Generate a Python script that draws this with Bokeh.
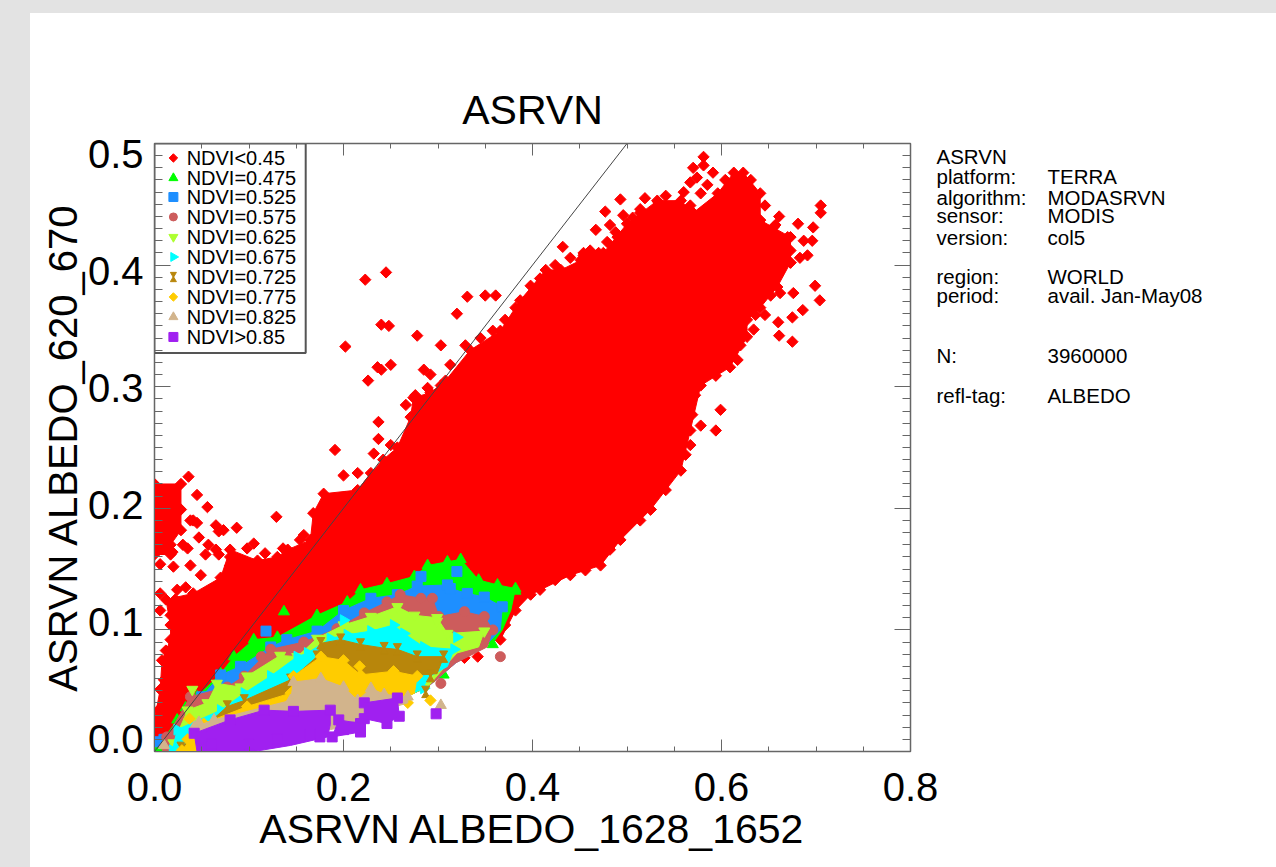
import math
from bokeh.plotting import figure
from bokeh.embed import file_html
from bokeh.resources import INLINE
from bokeh.core.properties import value
from bokeh.models import Range1d, LinearAxis, SingleIntervalTicker, FixedTicker, NumeralTickFormatter

TITLE = "ASRVN"
X_LABEL = "ASRVN ALBEDO_1628_1652"
Y_LABEL = "ASRVN ALBEDO_620_670"

# ---- info block (rows given on the y scale)
info_left = ["ASRVN", "platform:", "algorithm:", "sensor:", "version:", "region:", "period:", "N:", "refl-tag:"]
info_right = ["", "TERRA", "MODASRVN", "MODIS", "col5", "WORLD", "avail. Jan-May08", "3960000", "ALBEDO"]
info_rows = [.4897, .4725, .456, .4404, .4231, .391, .3746, .3253, .2924]

# ---- NDVI < 0.45 (red)
red_x = [0, 0, .006, .008, .017, .017, .012, .041, .070, .080, .109, .130, .141, .165, .168, .179, .215, .229, .242,
         .257, .271, .274, .292, .308, .334, .366, .387, .414, .430, .451, .454, .475, .500, .532, .557, .570, .596,
         .613, .623, .641, .641, .673, .673, .659, .641, .627, .627, .609, .578, .567, .557, .525, .493, .472, .440,
         .398, .382, .366, .303, .154, .049]
red_y = [0, .026, .051, .075, .092, .104, .125, .130, .143, .166, .157, .160, .166, .174, .196, .212, .215, .229, .240,
         .250, .275, .291, .295, .305, .330, .346, .371, .396, .396, .404, .410, .410, .434, .453, .453, .443, .459,
         .476, .476, .459, .437, .423, .402, .382, .365, .355, .341, .316, .301, .264, .231, .199, .174, .153, .145,
         .129, .116, .092, .083, .042, .005]
red_blob_x = [0, .028, .028, .017, .017, 0]
red_blob_y = [.220, .220, .182, .170, .162, .162]
red_pts_x = [.581, .581, .570, .591, .574, .567, .585, .560, .578, .493, .519, .477, .514, .533, .467, .482, .496, .506,
             .490, .479, .454, .470, .432, .451, .705, .705, .697, .681, .661, .655, .670, .687, .696, .691, .683, .673,
             .699, .704, .676, .686, .662, .646, .660, .675, .661, .675, .634, .617, .599, .594, .578, .567, .525,
             .223, .245, .240, .248, .278, .202, .226, .240, .236, .250, .285, .289, .237, .191, .237, .232, .250, .200,
             .215, .129, .087, .073, .068, .158, .320, .350, .361, .331, .303, .292, .266, .276, .036, .045, .056, .045,
             .065, .038, .098, .105, .136, .006, .020, .038, .006, .024, .033, .054, .065, .080, .049, .030, .012, .342,
             .328,
             .303, .313, .329, .345, .358, .371, .382, .398, .408, .424, .440, .461, .488, .514, .541, .567, .604, .631,
             .646, .657, .673, .652, .636, .620, .594, .572, .569, .562, .541, .514, .482, .456, .424, .408, .371,
             .012, .010, .004, .017, .006, .022, .186, .202, .154, .117,
             .041, .047, .057, .035, .019, .068, .080, .028]
red_pts_y = [.489, .482, .480, .476, .472, .468, .466, .460, .459, .454, .455, .444, .446, .452, .429, .433, .441, .439,
             .423, .419, .408, .410, .415, .398, .443, .449, .431, .434, .440, .431, .423, .420, .420, .408, .406, .402,
             .383, .371, .377, .363, .377, .359, .353, .357, .342, .337, .347, .322, .281, .264, .268, .252, .199,
             .388, .394, .351, .350, .342, .333, .305, .314, .316, .318, .314, .299, .271, .248, .257, .245, .252, .227,
             .229, .193, .184, .182, .181, .178, .360, .375, .375, .374, .334, .310, .285, .293, .226, .211, .201, .188,
             .186, .190, .167, .171, .167, .154, .152, .153, .130, .133, .135, .162, .166, .153, .145, .170, .182, .078,
             .077,
             .301, .318, .334, .340, .346, .355, .365, .383, .389, .400, .406, .412, .427, .443, .457, .449, .470, .470,
             .449, .433, .412, .375, .359, .334, .309, .293, .277, .244, .215, .190, .166, .149, .141, .133, .104,
             .083, .059, .034, .112, .116, .125, .203, .209, .174, .163,
             .190, .176, .170, .167, .164, .162, .160, .199]

# ---- NDVI = 0.475 (green)
green_top_x = [.001, .024, .045, .070, .084, .105, .130, .172, .204, .218, .246, .275, .289, .310, .324, .343, .363, .382]
green_top_y = [.001, .026, .045, .064, .078, .092, .094, .112, .123, .133, .138, .144, .153, .156, .158, .141, .137, .134]
green_bot_x = [.377, .368, .358, .338, .313, .289, .257, .186, .080, .010]
green_bot_y = [.116, .100, .089, .086, .070, .053, .042, .020, .001, 0]
green_pts_x = [.033, .137, .358, .306, .343, .382, .363]
green_pts_y = [.036, .115, .088, .063, .138, .132, .133]

# ---- NDVI = 0.525 (blue)
blue_top_x = [.010, .050, .070, .091, .123, .140, .172, .200, .229, .257, .278, .310, .313, .331, .349, .368]
blue_top_y = [.010, .045, .063, .070, .086, .092, .099, .116, .126, .129, .136, .137, .134, .130, .127, .119]
blue_bot_x = [.366, .349, .319, .289, .257, .186, .080, .010]
blue_bot_y = [.100, .086, .073, .053, .042, .020, .001, 0]
blue_pts_x = [.118, .282, .320, .005]
blue_pts_y = [.099, .144, .148, .008]

# ---- NDVI = 0.575 (rosy)
rosy_top_x = [.013, .038, .077, .095, .123, .158, .193, .222, .246, .260, .282, .294, .301, .328, .349, .358]
rosy_top_y = [.012, .045, .053, .062, .084, .090, .101, .114, .123, .129, .126, .126, .111, .115, .111, .100]
rosy_bot_x = [.352, .319, .289, .257, .186, .080, .010]
rosy_bot_y = [.086, .073, .053, .042, .020, .001, 0]
rosy_pts_x = [.366, .303, .113, .013]
rosy_pts_y = [.078, .056, .078, .003]

# ---- NDVI = 0.625 (yellow-green)
lime_top_x = [.020, .035, .056, .066, .091, .098, .133, .151, .172, .200, .229, .257, .275, .299, .310, .349]
lime_top_y = [.007, .034, .040, .056, .053, .062, .079, .078, .093, .104, .111, .119, .112, .110, .097, .099]
lime_bot_x = [.343, .320, .313, .289, .257, .186, .080, .020]
lime_bot_y = [.086, .081, .075, .053, .042, .020, .001, 0]
lime_pts_x = [.040, .299]
lime_pts_y = [.051, .107]

# ---- NDVI = 0.675 (cyan)
cyan_top_x = [.019, .024, .070, .095, .123, .151, .162, .186, .204, .229, .253, .264, .285, .317]
cyan_top_y = [.001, .018, .034, .048, .062, .078, .081, .093, .096, .099, .104, .097, .086, .084]
cyan_bot_x = [.310, .292, .282, .257, .186, .080, .020]
cyan_bot_y = [.070, .062, .051, .042, .020, .001, 0]
cyan_pts_x = [.200, .320, .285]
cyan_pts_y = [.108, .094, .052]

# ---- NDVI = 0.725 (brown)
brown_top_x = [.028, .077, .095, .144, .172, .176, .197, .218, .243, .257, .278, .306]
brown_top_y = [.003, .037, .042, .059, .078, .089, .092, .088, .085, .084, .078, .078]
brown_bot_x = [.299, .282, .257, .186, .080, .028]
brown_bot_y = [.064, .063, .042, .020, .001, 0]
brown_pts_x = [.287, .292]
brown_pts_y = [.049, .062]

# ---- NDVI = 0.775 (gold)
gold_top_x = [.029, .052, .098, .144, .147, .176, .200, .218, .253, .278]
gold_top_y = [.001, .023, .037, .048, .062, .078, .075, .063, .066, .062]
gold_bot_x = [.275, .260, .222, .186, .080, .029]
gold_bot_y = [.048, .042, .029, .020, .001, 0]
gold_pts_x = [.217, .292, .268, .037, .035]
gold_pts_y = [.070, .042, .040, .027, .010]

# ---- NDVI = 0.825 (tan)
tan_top_x = [.042, .063, .144, .147, .176, .200, .215, .229, .243, .268]
tan_top_y = [.020, .026, .042, .057, .060, .053, .042, .052, .047, .045]
tan_bot_x = [.268, .222, .218, .186, .165, .045]
tan_bot_y = [.040, .029, .023, .018, .014, .008]
tan_pts_x = [.303, .047, .010]
tan_pts_y = [.038, .024, .005]

# ---- NDVI > 0.85 (purple)
purple_top_x = [.042, .080, .116, .147, .186]
purple_top_y = [.015, .026, .034, .033, .034]
purple_bot_x = [.186, .183, .144, .105, .045]
purple_bot_y = [.022, .012, .005, 0, 0]
purple2_x = [.222, .257, .259, .246, .222]
purple2_y = [.040, .044, .029, .023, .027]
purple3_x = [.188, .195, .218, .218]
purple3_y = [.012, .026, .023, .016]
purple_pts_x = [.298, .228, .250, .200, .212, .175, .060, .100, .130, .165, .050]
purple_pts_y = [.031, .036, .036, .018, .020, .012, .006, .006, .010, .014, .012]

one_to_one = [0, 0.5]

legend_names = ["NDVI<0.45", "NDVI=0.475", "NDVI=0.525", "NDVI=0.575", "NDVI=0.625", "NDVI=0.675",
                "NDVI=0.725", "NDVI=0.775", "NDVI=0.825", "NDVI>0.85"]
legend_rows = [.4881, .4716, .456, .4396, .4231, .4067, .3902, .3738, .3573, .3409]

# ---- layout: frame spans x 154..910, y 143..751 of the page
W, H = 1263, 856
p = figure(width=W, height=H, x_range=Range1d(0, 0.8), y_range=Range1d(0, 0.5),
           output_backend="svg", toolbar_location=None,
           min_border_left=154, min_border_right=W - 910, min_border_top=143, min_border_bottom=H - 751,
           background_fill_color="white", border_fill_color=None)
p.grid.visible = False
p.outline_line_color = "#666666"
p.outline_line_width = 1.5

FONT = "Liberation Sans"
AX = "#666666"

def style_ticks(ax, major, minor):
    ax.axis_line_color = AX
    ax.major_tick_line_color = AX
    ax.minor_tick_line_color = AX
    ax.major_tick_in = major
    ax.major_tick_out = 0
    ax.minor_tick_in = minor
    ax.minor_tick_out = 0

xt = SingleIntervalTicker(interval=0.2, num_minor_ticks=4)
yt = SingleIntervalTicker(interval=0.1, num_minor_ticks=10)

xa = p.xaxis[0]
xa.ticker = xt
style_ticks(xa, 12, 5)
xa.formatter = NumeralTickFormatter(format="0.0")
xa.major_label_text_font = FONT
xa.major_label_text_font_size = "40px"
xa.major_label_text_color = "black"
xa.major_label_standoff = 21
xa.axis_label = X_LABEL
xa.axis_label_text_font = FONT
xa.axis_label_text_font_size = "41px"
xa.axis_label_text_font_style = "normal"
xa.axis_label_text_color = "black"
xa.axis_label_standoff = 2

ya = p.yaxis[0]
ya.ticker = yt
style_ticks(ya, 16, 8)
ya.major_label_text_font_size = "1px"
ya.major_label_text_color = None
ya.major_label_standoff = 0

# labels of the original sit slightly off their ticks: a label-only axis on its own range
p.extra_y_ranges = {"labels": Range1d(-0.0111, 0.5086)}
yl = LinearAxis(y_range_name="labels", ticker=SingleIntervalTicker(interval=0.1, num_minor_ticks=0),
                formatter=NumeralTickFormatter(format="0.0"))
yl.axis_line_color = None
yl.major_tick_line_color = None
yl.minor_tick_line_color = None
yl.major_label_text_font = FONT
yl.major_label_text_font_size = "40px"
yl.major_label_text_color = "black"
yl.major_label_standoff = 5
yl.axis_label = Y_LABEL
yl.axis_label_text_font = FONT
yl.axis_label_text_font_size = "40px"
yl.axis_label_text_font_style = "normal"
yl.axis_label_text_color = "black"
yl.axis_label_standoff = 0
p.add_layout(yl, "left")

ax_top = LinearAxis(ticker=xt, major_label_text_font_size="1px", major_label_text_color=None, major_label_standoff=0)
style_ticks(ax_top, 12, 5)
p.add_layout(ax_top, "above")
ax_right = LinearAxis(ticker=yt, major_label_text_font_size="1px", major_label_text_color=None, major_label_standoff=0)
style_ticks(ax_right, 16, 8)
p.add_layout(ax_right, "right")

# the info block sits outside the frame: two label-only axes beside it
def info_axis(rows, texts, standoff):
    ticks = [r for r, t in zip(rows, texts) if t]
    over = {r: t for r, t in zip(rows, texts) if t}
    ax = LinearAxis(ticker=FixedTicker(ticks=ticks), major_label_overrides=over, major_label_standoff=standoff,
                    major_label_text_font=FONT, major_label_text_font_size="20.5px", major_label_text_color="black",
                    axis_line_color=None, major_tick_line_color=None, minor_tick_line_color=None,
                    major_tick_in=0, major_tick_out=0, minor_tick_in=0, minor_tick_out=0)
    p.add_layout(ax, "right")

info_axis(info_rows, info_left, 26)
info_axis(info_rows, info_right, 18)

p.title.text = TITLE
p.title.align = "center"
p.title.text_font = FONT
p.title.text_font_size = "41px"
p.title.text_font_style = "normal"
p.title.text_color = "black"
p.title.standoff = 22

# ---- marks, painted in NDVI order as in the original
C = ["#ff0000", "#00ff00", "#1e8fff", "#cd5c5c", "#adff2f", "#00ffff", "#b8860b", "#ffcc00", "#d2b48c", "#a020f0"]

p.patches([red_x, red_blob_x], [red_y, red_blob_y], fill_color=C[0], line_color=C[0], line_width=1)
p.scatter(red_x + red_pts_x + red_blob_x, red_y + red_pts_y + red_blob_y, marker="square",
          angle=math.pi / 4, size=8, color=C[0])

def band(tx, ty, bx, by, px, py, col, marker, size, **kw):
    p.patch(tx + bx, ty + by, fill_color=col, line_color=col, line_width=1)
    p.scatter(tx + px, ty + py, marker=marker, size=size, color=col, **kw)

def hourglass(xs, ys, col, size, gap):
    p.scatter(xs, [y + gap for y in ys], marker="inverted_triangle", size=size, color=col)
    p.scatter(xs, [y - gap for y in ys], marker="triangle", size=size, color=col)

band(green_top_x, green_top_y, green_bot_x, green_bot_y, green_pts_x, green_pts_y, C[1], "triangle", 11)
band(blue_top_x, blue_top_y, blue_bot_x, blue_bot_y, blue_pts_x, blue_pts_y, C[2], "square", 10)
band(rosy_top_x, rosy_top_y, rosy_bot_x, rosy_bot_y, rosy_pts_x, rosy_pts_y, C[3], "circle", 10)
band(lime_top_x, lime_top_y, lime_bot_x, lime_bot_y, lime_pts_x, lime_pts_y, C[4], "inverted_triangle", 11)
band(cyan_top_x, cyan_top_y, cyan_bot_x, cyan_bot_y, cyan_pts_x, cyan_pts_y, C[5], "triangle", 11, angle=-math.pi / 2)
p.patch(brown_top_x + brown_bot_x, brown_top_y + brown_bot_y, fill_color=C[6], line_color=C[6], line_width=1)
hourglass(brown_top_x + brown_pts_x, brown_top_y + brown_pts_y, C[6], 8, 0.0028)
band(gold_top_x, gold_top_y, gold_bot_x, gold_bot_y, gold_pts_x, gold_pts_y, C[7], "square", 8, angle=math.pi / 4)
band(tan_top_x, tan_top_y, tan_bot_x, tan_bot_y, tan_pts_x, tan_pts_y, C[8], "triangle", 11)
band(purple_top_x, purple_top_y, purple_bot_x, purple_bot_y, purple_pts_x + purple2_x + purple3_x,
     purple_pts_y + purple2_y + purple3_y, C[9], "square", 10)
p.patches([purple2_x, purple3_x], [purple2_y, purple3_y], fill_color=C[9], line_color=C[9])

p.line(one_to_one, one_to_one, line_color="#444444", line_width=1)

# ---- legend box, drawn in the plot so that each row can have the original's own marker
p.quad(left=[0], right=[0.16], top=[0.5], bottom=[0.3277], fill_color="white", line_color="#555555", line_width=2)
glyph_x, text_x = 0.020, 0.034
mk = [("square", 6, math.pi / 4), ("triangle", 9, 0), ("square", 9, 0), ("circle", 8, 0), ("inverted_triangle", 9, 0),
      ("triangle", 9, -math.pi / 2), None, ("square", 6, math.pi / 4), ("triangle", 9, 0), ("square", 9, 0)]
for name, row, col, m in zip(legend_names, legend_rows, C, mk):
    if m is None:
        hourglass([glyph_x], [row], col, 6, 0.0024)
    else:
        p.scatter([glyph_x], [row], marker=m[0], size=m[1], angle=m[2], color=col)
p.text([text_x] * len(legend_names), legend_rows, text=legend_names, text_font=value(FONT), text_font_size="20px",
       text_color="black", text_baseline="middle", text_align="left")

html = file_html(p, INLINE, title="ASRVN")
style = ("<style>html{height:100%}body{background:"
         "linear-gradient(#e3e3e3,#e3e3e3) 0 0/100% 13px no-repeat,"
         "linear-gradient(#e3e3e3,#e3e3e3) 0 0/30px 100% no-repeat,white}</style>")
html = html.replace("</head>", style + "</head>", 1)
open("out.html", "w").write(html)
